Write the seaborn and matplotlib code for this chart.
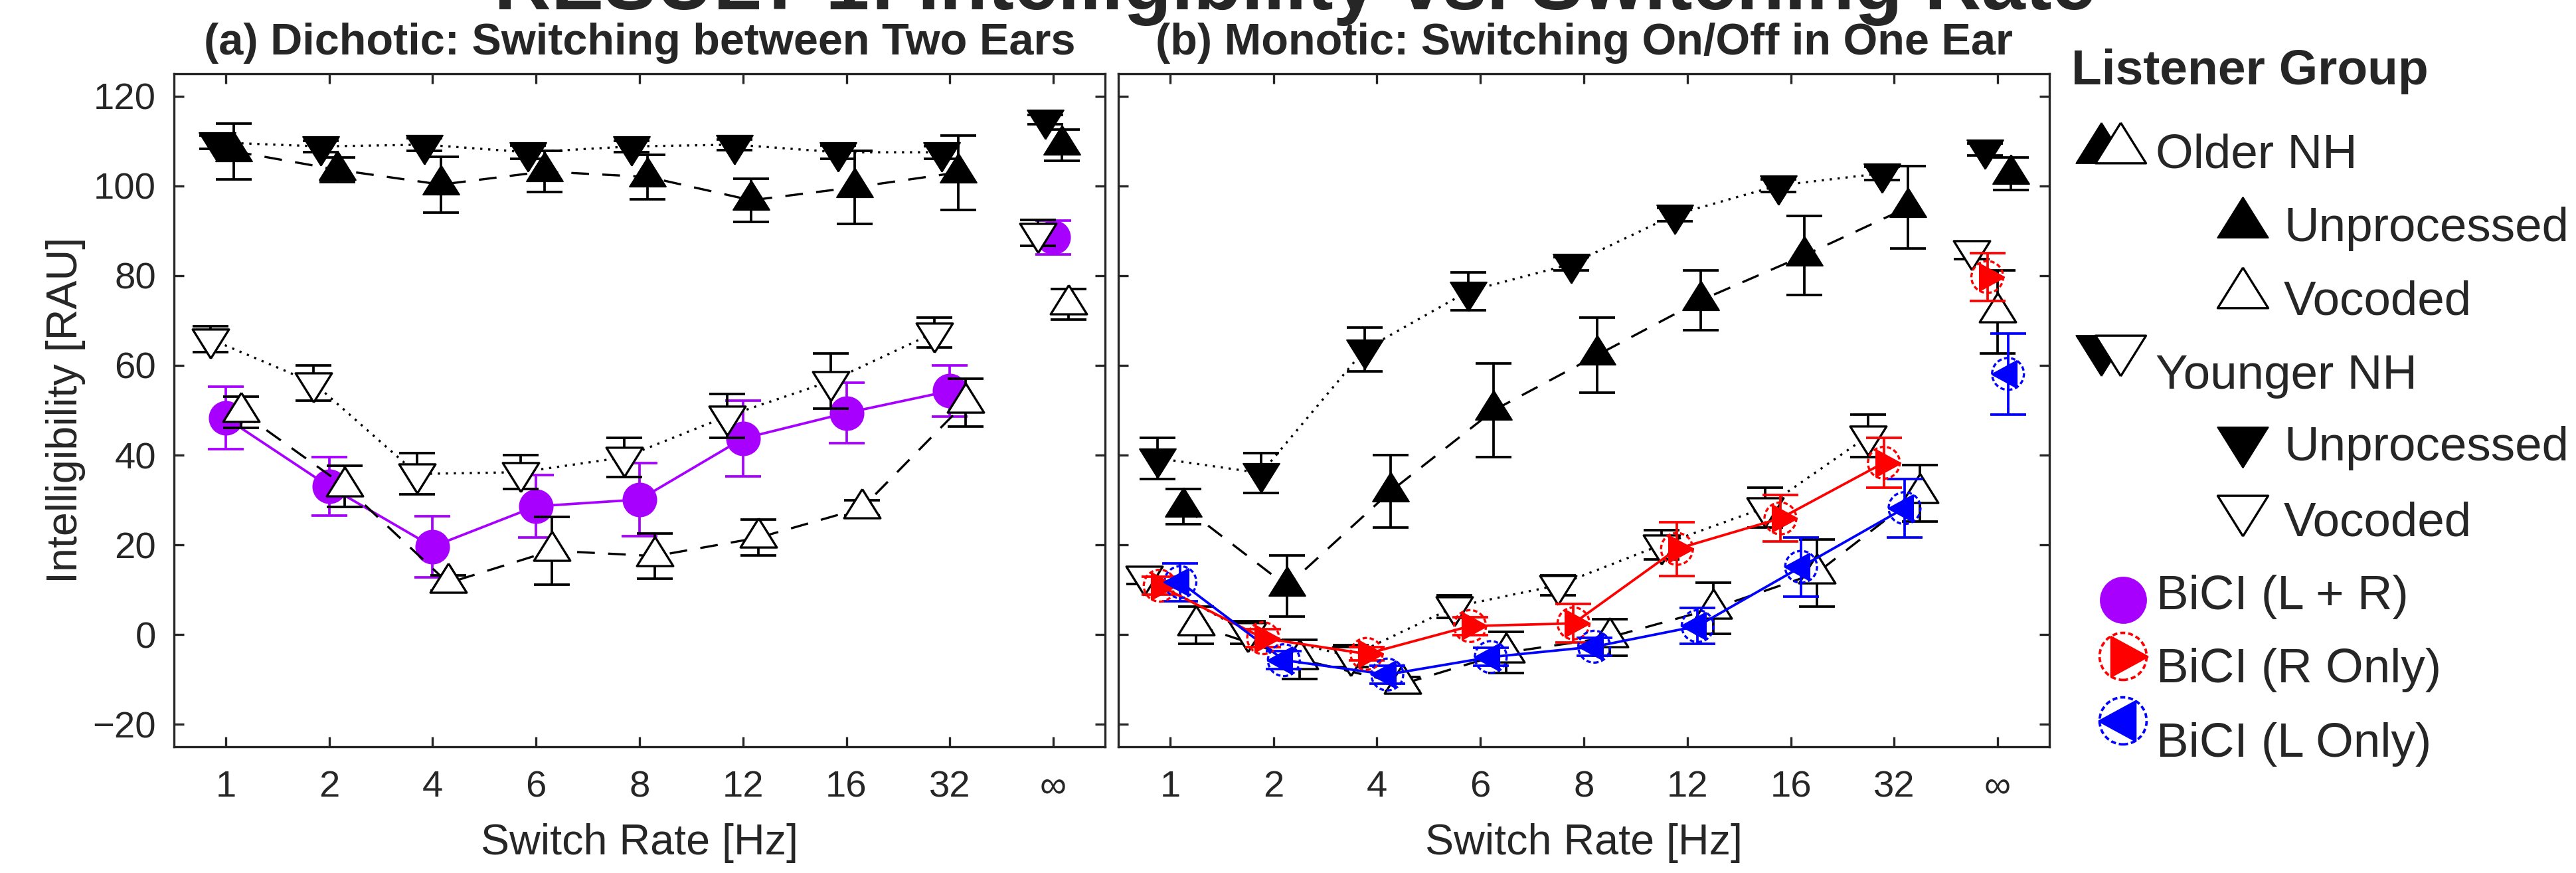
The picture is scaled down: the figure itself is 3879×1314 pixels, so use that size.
import numpy as np
import matplotlib
matplotlib.use("Agg")
import matplotlib.pyplot as plt
import seaborn as sns

# ---- data: intelligibility in RAU (mean, standard error) ----
rates = ["1", "2", "4", "6", "8", "12", "16", "32", "\u221e"]

# (a) Dichotic
a_younger_unproc = [109.7, 108.8, 109.2, 107.5, 108.8, 109.2, 107.5, 107.5, 114.8]
a_younger_unproc_se = [1.5, 1.2, 1.4, 1.5, 1.3, 1.2, 1.5, 1.4, 1.0]
a_older_unproc = [107.7, 103.6, 100.3, 103.2, 102.0, 96.8, 99.7, 103.0, 109.1]
a_older_unproc_se = [6.2, 2.8, 6.2, 4.6, 5.0, 4.8, 8.1, 8.3, 3.5]
a_younger_voc = [65.9, 56.1, 35.8, 36.2, 39.5, 48.7, 56.5, 67.3, 89.5]
a_younger_voc_se = [2.9, 3.9, 4.6, 3.8, 4.4, 4.9, 6.1, 3.3, 2.9]
a_older_voc = [49.6, 33.1, 11.5, 18.7, 17.5, 21.6, 28.2, 51.7, 73.6]
a_older_voc_se = [3.5, 4.6, 1.7, 7.6, 5.0, 4.0, 1.7, 5.3, 3.4]
a_bici_lr = [48.3, 33.0, 19.6, 28.6, 30.1, 43.7, 49.4, 54.3, 88.5]
a_bici_lr_se = [7.0, 6.5, 6.8, 7.0, 8.1, 8.5, 6.8, 5.7, 3.8]

# (b) Monotic
b_younger_unproc = [39.3, 36.0, 63.5, 76.5, 82.6, 93.6, 100.1, 102.8, 108.1]
b_younger_unproc_se = [4.6, 4.5, 4.9, 4.2, 1.5, 1.5, 1.4, 1.5, 1.3]
b_older_unproc = [28.5, 10.8, 31.9, 50.0, 62.3, 74.5, 84.5, 95.2, 102.7]
b_older_unproc_se = [3.9, 6.8, 8.1, 10.5, 8.4, 6.6, 8.8, 9.2, 3.6]
b_younger_voc = [13.1, 0.5, -4.8, 6.2, 11.0, 20.0, 28.3, 44.3, 85.6]
b_younger_voc_se = [1.8, 2.5, 2.4, 2.5, 2.2, 3.3, 4.5, 4.8, 1.9]
b_older_voc = [2.1, -5.5, -11.0, -4.0, -0.6, 5.8, 13.7, 31.5, 71.9]
b_older_voc_se = [4.1, 4.4, 1.5, 4.6, 4.1, 5.7, 7.5, 6.3, 9.2]
b_bici_r = [10.9, -0.8, -4.3, 1.9, 2.5, 19.1, 25.9, 38.3, 79.7]
b_bici_r_se = [2.0, 2.0, 1.5, 2.0, 4.3, 6.0, 5.2, 5.5, 5.3]
b_bici_l = [11.7, -5.7, -8.9, -5.0, -2.7, 1.9, 15.1, 28.2, 58.1]
b_bici_l_se = [4.2, 2.0, 2.0, 2.0, 2.0, 4.0, 6.6, 6.5, 9.0]

W, H, DPI = 3879, 1314, 300
GRAY = "#262626"
PURPLE = "#A800FF"
RED = "#FF0000"
BLUE = "#0000FF"
DASHED = (0, (8, 6))
DOTTED = (0, (1, 2.6))

sns.set_theme(style="ticks")
plt.rcParams["font.family"] = ["Liberation Sans", "DejaVu Sans"]


def tri(direction, depth=0.8):
    # triangle centred on its centroid (MATLAB style)
    pts = np.array([(0, 2 * depth / 3), (-0.5, -depth / 3), (0.5, -depth / 3)])
    if direction == "down":
        pts[:, 1] *= -1
    elif direction in ("right", "left"):
        pts = pts[:, ::-1].copy()
        if direction == "left":
            pts[:, 0] *= -1
    pts = np.vstack([pts, pts[:1]])
    return [tuple(p) for p in pts]


UP, DOWN = tri("up"), tri("down")
RIGHT, LEFT = tri("right", 0.92), tri("left", 0.92)


def draw(ax, vals, se, offset, color, face, marker, ms, ls, lw, z,
         ring=None, inf_offset=None):
    vals = np.asarray(vals)
    x = np.arange(len(vals)) + offset
    if inf_offset is not None:
        x[-1] = len(vals) - 1 + inf_offset
    ax.errorbar(x, vals, yerr=se, fmt="none", ecolor=color, elinewidth=0.9,
                capsize=6.5, capthick=0.9, zorder=z)
    # the infinity condition is not joined to the switching rates
    sns.lineplot(x=x[:8], y=vals[:8], ax=ax, color=color, linestyle=ls,
                 linewidth=lw, sort=False, zorder=z + 0.1)
    if ring is not None:
        ax.scatter(x, vals, marker="o", s=ring ** 2, facecolors="none",
                   edgecolors=color, linewidths=0.8, linestyle=(0, (2, 1.2)),
                   zorder=z + 0.2)
    edge_lw = 0.5 if face == color else 0.8
    sns.scatterplot(x=x, y=vals, ax=ax, marker=marker, s=ms ** 2, color=face,
                    edgecolor=color, linewidth=edge_lw, zorder=z + 0.3)


def style_axes(ax):
    ax.set_xlim(-0.5, 8.5)
    ax.set_ylim(-25, 125)
    ax.set_xticks(range(len(rates)))
    ax.set_xticklabels(rates)
    ax.set_yticks(np.arange(-20, 121, 20))
    ax.tick_params(direction="in", length=3.5, width=0.8, top=True, right=True,
                   colors=GRAY, labelsize=13.5)
    ax.tick_params(axis="x", pad=8.5)
    ax.tick_params(axis="y", pad=6.5)
    for sp in ax.spines.values():
        sp.set_visible(True)
        sp.set_color(GRAY)
        sp.set_linewidth(0.8)
    ax.set_xlabel("Switch Rate [Hz]", fontsize=15.5, color=GRAY)
    ax.xaxis.set_label_coords(0.5, -0.114)


fig = plt.figure(figsize=(W / DPI, H / DPI), dpi=DPI)
ax_a = fig.add_axes([0.06754, 0.14460, 0.36144, 0.77093])
ax_b = fig.add_axes([0.43413, 0.14460, 0.36144, 0.77093])

# (a) dichotic
draw(ax_a, a_bici_lr, a_bici_lr_se, 0.0, PURPLE, PURPLE, "o", 12, "-", 0.9, 2)
draw(ax_a, a_younger_unproc, a_younger_unproc_se, -0.08, "black", "black", DOWN, 14, DOTTED, 0.8, 3)
draw(ax_a, a_older_unproc, a_older_unproc_se, 0.08, "black", "black", UP, 14, DASHED, 0.8, 3)
draw(ax_a, a_younger_voc, a_younger_voc_se, -0.15, "black", "white", DOWN, 14, DOTTED, 0.8, 3)
draw(ax_a, a_older_voc, a_older_voc_se, 0.15, "black", "white", UP, 14, DASHED, 0.8, 3)

# (b) monotic
draw(ax_b, b_younger_unproc, b_younger_unproc_se, -0.12, "black", "black", DOWN, 14, DOTTED, 0.8, 2)
draw(ax_b, b_older_unproc, b_older_unproc_se, 0.13, "black", "black", UP, 14, DASHED, 0.8, 2)
draw(ax_b, b_younger_voc, b_younger_voc_se, -0.25, "black", "white", DOWN, 14, DOTTED, 0.8, 2)
draw(ax_b, b_older_voc, b_older_voc_se, 0.25, "black", "white", UP, 14, DASHED, 0.8, 2,
     inf_offset=0.0)
draw(ax_b, b_bici_r, b_bici_r_se, -0.1, RED, RED, RIGHT, 12, "-", 0.9, 3, ring=11.5)
draw(ax_b, b_bici_l, b_bici_l_se, 0.1, BLUE, BLUE, LEFT, 12, "-", 0.9, 3, ring=11.5)

style_axes(ax_a)
style_axes(ax_b)
ax_a.set_ylabel("Intelligibility [RAU]", fontsize=15.5, color=GRAY)
ax_a.yaxis.set_label_coords(-0.095, 0.5)
ax_b.set_ylabel("")
ax_b.tick_params(labelleft=False)

ax_a.set_title("(a) Dichotic: Switching between Two Ears", fontsize=16,
               fontweight="bold", pad=7)
ax_b.set_title("(b) Monotic: Switching On/Off in One Ear", fontsize=16,
               fontweight="bold", pad=7)

fig.text(1950 / W, 1 - 14 / H, "RESULT 1: Intelligibility vs. Switching Rate",
         ha="center", va="baseline", fontsize=28.5, fontweight="bold")

# ---- legend, drawn by hand (pixel coordinates of the figure) ----
lax = fig.add_axes([0, 0, 1, 1])
lax.set_xlim(0, W)
lax.set_ylim(H, 0)
lax.axis("off")

LMS = 19.5
lax.plot(3164, 225, marker=UP, ms=LMS, mfc="black", mec="black", mew=0.5, ls="none")
lax.plot(3193, 225, marker=UP, ms=LMS, mfc="white", mec="black", mew=0.8, ls="none")
lax.plot(3377, 337, marker=UP, ms=LMS, mfc="black", mec="black", mew=0.5, ls="none")
lax.plot(3377, 443, marker=UP, ms=LMS, mfc="white", mec="black", mew=0.8, ls="none")
lax.plot(3164, 525, marker=DOWN, ms=LMS, mfc="black", mec="black", mew=0.5, ls="none")
lax.plot(3193, 525, marker=DOWN, ms=LMS, mfc="white", mec="black", mew=0.8, ls="none")
lax.plot(3377, 663, marker=DOWN, ms=LMS, mfc="black", mec="black", mew=0.5, ls="none")
lax.plot(3377, 766, marker=DOWN, ms=LMS, mfc="white", mec="black", mew=0.8, ls="none")
lax.plot(3197, 903, marker="o", ms=16, mfc=PURPLE, mec=PURPLE, ls="none")
for yy, col, mk in [(988, RED, RIGHT), (1085, BLUE, LEFT)]:
    lax.scatter([3197], [yy], marker="o", s=17 ** 2, facecolors="none",
                edgecolors=col, linewidths=0.9, linestyle=(0, (2, 1.2)))
    lax.plot(3197, yy, marker=mk, ms=18, mfc=col, mec=col, mew=0.5, ls="none")

lax.text(3119, 107, "Listener Group", fontsize=18, fontweight="bold", va="center", ha="left")
entries = [
    ("Older NH", 3246, 234),
    ("Unprocessed", 3439, 344),
    ("Vocoded", 3439, 455),
    ("Younger NH", 3246, 566),
    ("Unprocessed", 3439, 675),
    ("Vocoded", 3439, 788),
    ("BiCI (L + R)", 3247, 899),
    ("BiCI (R Only)", 3247, 1009),
    ("BiCI (L Only)", 3247, 1121),
]
for label, xx, yy in entries:
    lax.text(xx, yy, label, fontsize=17.5, va="center", ha="left")

fig.savefig("out.png", dpi=DPI)
